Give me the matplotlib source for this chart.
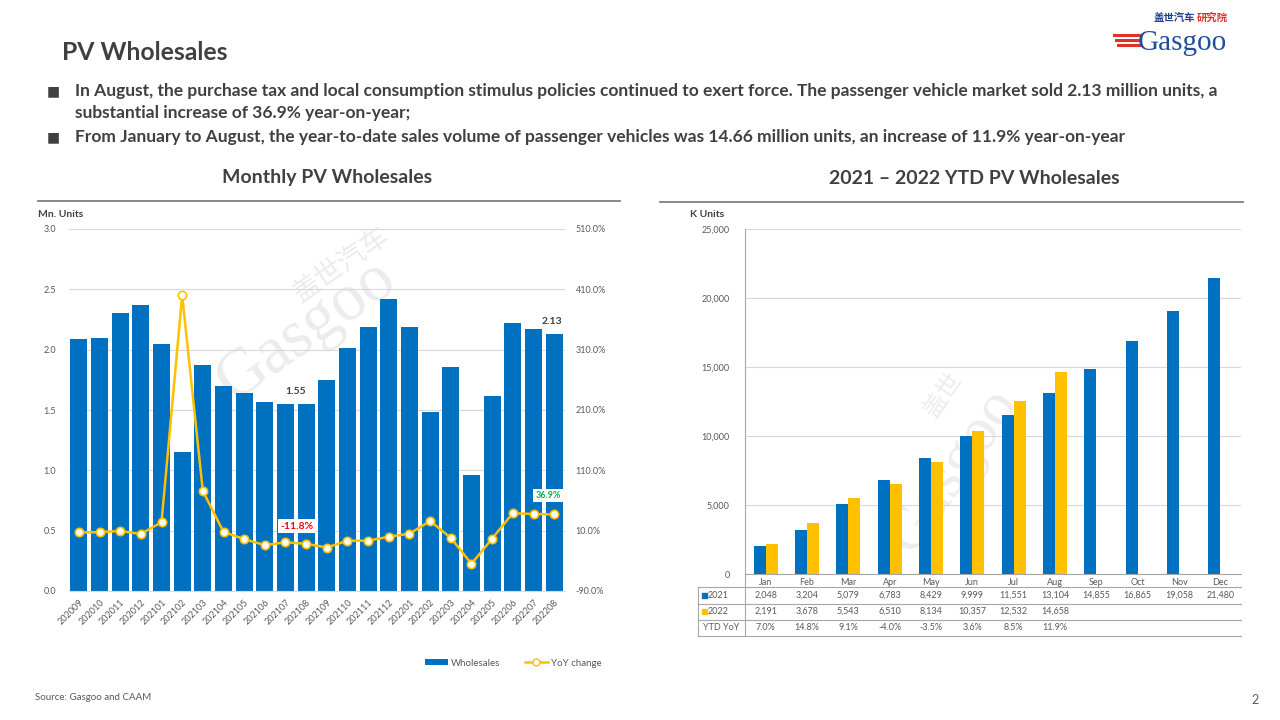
import matplotlib
matplotlib.use("Agg")
import matplotlib.pyplot as plt
import matplotlib.transforms as mtransforms
from matplotlib.lines import Line2D
from matplotlib.patches import Patch, Rectangle
import numpy as np

plt.rcParams["font.family"] = ["Lato", "Noto Sans CJK SC", "DejaVu Sans"]

BLUE = "#0070C0"
GOLD = "#FFC000"
DARK = "#404040"
GREY = "#595959"
GRID = "#D9D9D9"

# ---- data: monthly wholesales (Mn. units) and YoY change (%)
months = ["202009", "202010", "202011", "202012", "202101", "202102", "202103", "202104",
          "202105", "202106", "202107", "202108", "202109", "202110", "202111", "202112",
          "202201", "202202", "202203", "202204", "202205", "202206", "202207", "202208"]
wholesales = [2.09, 2.10, 2.30, 2.37, 2.05, 1.15, 1.87, 1.70,
              1.64, 1.57, 1.55, 1.55, 1.75, 2.01, 2.19, 2.42,
              2.19, 1.48, 1.86, 0.96, 1.62, 2.22, 2.17, 2.13]
yoy = [7.0, 7.5, 9.5, 4.5, 24.0, 400.0, 75.8, 8.0,
       -4.0, -14.0, -9.3, -11.8, -18.0, -6.6, -6.6, 0.0,
       5.0, 26.0, -2.0, -45.0, -3.0, 39.0, 37.6, 36.9]

# ---- data: YTD wholesales (K units)
ytd_months = ["Jan", "Feb", "Mar", "Apr", "May", "Jun", "Jul", "Aug", "Sep", "Oct", "Nov", "Dec"]
ytd_2021 = [2048, 3204, 5079, 6783, 8429, 9999, 11551, 13104, 14855, 16865, 19058, 21480]
ytd_2022 = [2191, 3678, 5543, 6510, 8134, 10357, 12532, 14658]
ytd_yoy = ["7.0%", "14.8%", "9.1%", "-4.0%", "-3.5%", "3.6%", "8.5%", "11.9%"]

W, H = 1280, 720


def rect(x0, y0, x1, y1):
    return [x0 / W, 1 - y1 / H, (x1 - x0) / W, (y1 - y0) / H]


def fx(x):
    return x / W


def fy(y):
    return 1 - y / H


fig = plt.figure(figsize=(12.8, 7.2), dpi=100)
fig.patch.set_facecolor("white")

# ---- header
fig.text(fx(62), fy(52), "PV Wholesales", fontsize=17.8, fontweight="bold", color=DARK, va="center")
bullets = [
    (91, "In August, the purchase tax and local consumption stimulus policies continued to exert force. "
         "The passenger vehicle market sold 2.13 million units, a", True),
    (113, "substantial increase of 36.9% year-on-year;", False),
    (137, "From January to August, the year-to-date sales volume of passenger vehicles was 14.66 million units, "
          "an increase of 11.9% year-on-year", True),
]
for y, txt, mark in bullets:
    if mark:
        fig.text(fx(47), fy(y), "■", fontsize=10, color=DARK, va="center", family="DejaVu Sans")
    fig.text(fx(75), fy(y), txt, fontsize=12.5, fontweight="bold", color=DARK, va="center")

# logo
fig.text(fx(1154), fy(18), "盖世汽车", fontsize=7.5, fontweight="bold", color="#1F3F8F",
         va="center", family=["Noto Sans CJK SC"])
fig.text(fx(1197), fy(18), "研究院", fontsize=7.5, fontweight="bold", color="#E0312A",
         va="center", family=["Noto Sans CJK SC"])
fig.text(fx(1138), fy(43), "Gasgoo", fontsize=21, color="#1F4E9C", va="center",
         family=["Liberation Serif"])
for i, yy in enumerate([35, 40, 45]):
    fig.add_artist(Line2D([fx(1114 + i * 2), fx(1140)], [fy(yy)] * 2, color="#E0312A", lw=2.2))

# chart titles and rules
fig.text(fx(327), fy(178), "Monthly PV Wholesales", fontsize=14, fontweight="bold",
         color=DARK, ha="center", va="center")
fig.text(fx(974), fy(178), "2021 – 2022 YTD PV Wholesales", fontsize=14, fontweight="bold",
         color=DARK, ha="center", va="center")
fig.add_artist(Line2D([fx(38), fx(620)], [fy(201)] * 2, color="#7F7F7F", lw=1.3))
fig.add_artist(Line2D([fx(660), fx(1243)], [fy(202)] * 2, color="#7F7F7F", lw=1.3))

# ---- left chart
axL = fig.add_axes(rect(68.5, 229, 564.5, 591))
axL.set_facecolor("none")
x = np.arange(len(months))
axL.bar(x, wholesales, width=0.82, color=BLUE, zorder=2)
axL.set_xlim(-0.5, len(months) - 0.5)
axL.set_ylim(0, 3.0)
axL.set_yticks(np.arange(0, 3.01, 0.5))
axL.set_yticklabels([f"{v:.1f}" for v in np.arange(0, 3.01, 0.5)])
axL.yaxis.grid(True, color=GRID, lw=0.8, zorder=0)
axL.set_axisbelow(True)
for s in ["left", "right", "top"]:
    axL.spines[s].set_visible(False)
axL.spines["bottom"].set_color(GRID)
axL.tick_params(axis="y", length=0, labelsize=6.5, labelcolor=GREY, pad=9)
axL.set_xticks(x)
axL.set_xticklabels(months, rotation=45, ha="right", rotation_mode="anchor")
axL.tick_params(axis="x", length=0, labelsize=6.5, labelcolor=GREY, pad=5)
fig.text(fx(38), fy(214), "Mn. Units", fontsize=7.5, fontweight="bold", color=DARK, va="center")

# watermark (behind bars)
axL.text(0.48, 0.72, "Gasgoo", transform=axL.transAxes, fontsize=48, color="#ECECEC",
         rotation=35, ha="center", va="center", zorder=0.5, family=["Liberation Serif"])
axL.text(0.55, 0.90, "盖世汽车", transform=axL.transAxes, fontsize=20, color="#ECECEC",
         rotation=35, ha="center", va="center", zorder=0.5, family=["Noto Sans CJK SC"])

for i, lab in [(11, "1.55"), (23, "2.13")]:
    axL.text(x[i] - (0.5 if i == 11 else 0.1), wholesales[i] + 0.07, lab, fontsize=7.5,
             fontweight="bold", color=DARK, ha="center", va="bottom", zorder=4)

axR2 = axL.twinx()
axR2.set_ylim(-90, 510)
axR2.set_yticks(np.arange(-90, 511, 100))
axR2.set_yticklabels([f"{v:.1f}%" for v in np.arange(-90, 511, 100)])
for s in axR2.spines.values():
    s.set_visible(False)
axR2.tick_params(axis="y", length=0, labelsize=6.5, labelcolor=GREY, pad=8)
axR2.plot(x, yoy, color=GOLD, lw=1.8, marker="o", markersize=6,
          markerfacecolor="white", markeredgecolor=GOLD, markeredgewidth=1.2, zorder=3)
axR2.text(x[11] - 0.45, yoy[11] + 22, "-11.8%", fontsize=7.5, fontweight="bold", color="#FF0000",
          ha="center", va="bottom", bbox=dict(facecolor="white", edgecolor="none", pad=1.5), zorder=5)
axR2.text(x[23] - 0.3, yoy[23] + 24, "36.9%", fontsize=6.5, fontweight="bold", color="#00B050",
          ha="center", va="bottom", bbox=dict(facecolor="white", edgecolor="none", pad=1.5), zorder=5)

handles = [Patch(facecolor=BLUE, edgecolor="none"),
           Line2D([0], [0], color=GOLD, lw=1.8, marker="o", markersize=5,
                  markerfacecolor="white", markeredgecolor=GOLD)]
fig.legend(handles, ["Wholesales", "YoY change"], loc="center", bbox_to_anchor=(fx(513), fy(663)),
           ncol=2, frameon=False, fontsize=7, labelcolor=GREY, handlelength=2.4,
           handleheight=0.45, columnspacing=2.5, handletextpad=0.3)

# ---- right chart
axY = fig.add_axes(rect(745, 229, 1241, 574))
axY.set_facecolor("none")
xm = np.arange(len(ytd_months))
bw = 0.29
axY.bar(xm - bw / 2, ytd_2021, width=bw, color=BLUE, zorder=2)
axY.bar(xm[:len(ytd_2022)] + bw / 2, ytd_2022, width=bw, color=GOLD, zorder=2)
axY.set_xlim(-0.5, len(ytd_months) - 0.5)
axY.set_ylim(0, 25000)
axY.set_yticks(np.arange(0, 25001, 5000))
axY.set_yticklabels([f"{v:,}" for v in range(0, 25001, 5000)])
axY.yaxis.grid(True, color=GRID, lw=0.8, zorder=0)
axY.set_axisbelow(True)
for s in ["right", "top"]:
    axY.spines[s].set_visible(False)
axY.spines["left"].set_color("#A6A6A6")
axY.spines["bottom"].set_color("#A6A6A6")
axY.tick_params(axis="y", length=0, labelsize=6.5, labelcolor=GREY, pad=11)
axY.set_xticks(xm)
axY.set_xticklabels(ytd_months)
axY.tick_params(axis="x", length=0, labelsize=6.5, labelcolor=GREY, pad=3)
fig.text(fx(690), fy(214), "K Units", fontsize=7.5, fontweight="bold", color=DARK, va="center")

axY.text(0.42, 0.30, "Gasgoo", transform=axY.transAxes, fontsize=44, color="#EDEDED",
         rotation=55, ha="center", va="center", zorder=0.5, family=["Liberation Serif"])
axY.text(0.40, 0.52, "盖世", transform=axY.transAxes, fontsize=18, color="#EDEDED",
         rotation=55, ha="center", va="center", zorder=0.5, family=["Noto Sans CJK SC"])

# data table under the right chart
trans = mtransforms.blended_transform_factory(axY.transData, fig.transFigure)
for yy in [587, 603.5, 620, 636]:
    fig.add_artist(Line2D([fx(698), fx(1241)], [fy(yy)] * 2, color="#A6A6A6", lw=0.8))
fig.add_artist(Line2D([fx(698), fx(698)], [fy(587), fy(636)], color="#A6A6A6", lw=0.8))
fig.add_artist(Line2D([fx(745), fx(745)], [fy(574), fy(636)], color="#A6A6A6", lw=0.8))

rows = [(595, "2021", BLUE, [f"{v:,}" for v in ytd_2021]),
        (611.5, "2022", GOLD, [f"{v:,}" for v in ytd_2022]),
        (628, "YTD YoY", None, ytd_yoy)]
for yy, name, col, vals in rows:
    if col:
        fig.add_artist(Rectangle((fx(702), fy(yy) - 2.5 / H), 5 / W, 5 / H,
                                 transform=fig.transFigure, color=col))
        fig.text(fx(708), fy(yy), name, fontsize=6.5, color=GREY, va="center")
    else:
        fig.text(fx(721), fy(yy), name, fontsize=6.5, color=GREY, va="center", ha="center")
    for i, v in enumerate(vals):
        axY.text(xm[i], fy(yy), v, transform=trans, fontsize=6.5, color=GREY,
                 ha="center", va="center")

# ---- footer
fig.text(fx(35), fy(698), "Source: Gasgoo and CAAM", fontsize=7, color=GREY, va="center")
fig.text(fx(1255), fy(700), "2", fontsize=9, color=GREY, va="center", ha="center")

fig.savefig("out.png", dpi=100, facecolor="white")
